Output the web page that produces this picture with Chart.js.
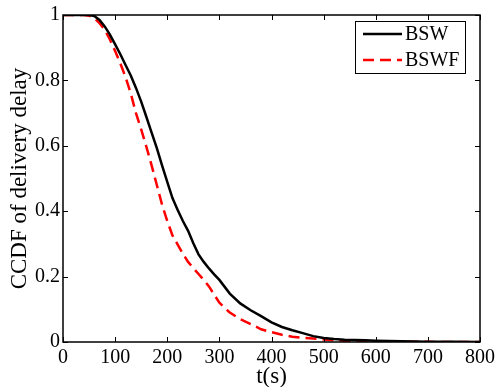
<!DOCTYPE html>
<html>
<head>
<meta charset="utf-8">
<script src="https://cdn.jsdelivr.net/npm/chart.js@4.4.0/dist/chart.umd.min.js"></script>
<style>
    html, body { margin: 0; padding: 0; background: #fff; }
    #wrap { width: 499px; height: 387px; }
</style>
</head>
<body>
<div id="wrap"><canvas id="ccdfChart" width="499" height="387"></canvas></div>
<script>
// delay time (s)
const timeValues = [0, 20, 40, 50, 60, 70, 80, 90, 100, 110, 120, 130, 140, 150, 160, 170, 180, 190, 200, 210, 220, 230,
    240, 250, 260, 270, 280, 290, 300, 320, 340, 360, 380, 400, 420, 440, 460, 480, 500, 520, 540, 560, 580, 600,
    650, 700, 750, 800];
// CCDF, BSW (solid black)
const bswValues = [1, 1, 1, 1, 0.997, 0.985, 0.965, 0.94, 0.91, 0.88, 0.847, 0.815, 0.777, 0.735, 0.688, 0.64, 0.593,
    0.54, 0.49, 0.44, 0.404, 0.37, 0.34, 0.302, 0.268, 0.245, 0.225, 0.207, 0.19, 0.148, 0.118, 0.097, 0.079, 0.06,
    0.046, 0.036, 0.027, 0.018, 0.012, 0.009, 0.007, 0.006, 0.005, 0.004, 0.002, 0.001, 0.0005, 0];
// CCDF, BSWF (dashed red)
const bswfValues = [1, 1, 1, 0.998, 0.99, 0.975, 0.955, 0.925, 0.89, 0.852, 0.81, 0.76, 0.70, 0.65, 0.597, 0.54,
    0.48, 0.42, 0.37, 0.326, 0.298, 0.27, 0.245, 0.226, 0.208, 0.19, 0.17, 0.145, 0.12, 0.09, 0.07, 0.055, 0.039,
    0.03, 0.022, 0.016, 0.013, 0.011, 0.008, 0.005, 0.004, 0.003, 0.002, 0.002, 0.001, 0.0005, 0, 0];
const xTicks = [0, 100, 200, 300, 400, 500, 600, 700, 800];
const yTicks = [0, 0.2, 0.4, 0.6, 0.8, 1];

const serif = "'Liberation Serif', 'DejaVu Serif', serif";

function toPoints(ys) {
    return timeValues.map((t, i) => ({ x: t, y: ys[i] }));
}

// MATLAB 風の枠と内向きの目盛り
const boxPlugin = {
    id: 'boxPlugin',
    afterDatasetsDraw(chart) {
        const { ctx, chartArea: a, scales } = chart;
        ctx.save();
        ctx.strokeStyle = '#000';
        ctx.lineWidth = 1;
        ctx.beginPath();
        xTicks.forEach(v => {
            const px = Math.round(scales.x.getPixelForValue(v)) + 0.5;
            ctx.moveTo(px, a.bottom); ctx.lineTo(px, a.bottom - 5);
            ctx.moveTo(px, a.top); ctx.lineTo(px, a.top + 5);
        });
        yTicks.forEach(v => {
            const py = Math.round(scales.y.getPixelForValue(v)) + 0.5;
            ctx.moveTo(a.left, py); ctx.lineTo(a.left + 5, py);
            ctx.moveTo(a.right, py); ctx.lineTo(a.right - 5, py);
        });
        ctx.stroke();
        ctx.lineWidth = 1.5;
        ctx.strokeRect(a.left, a.top, a.right - a.left, a.bottom - a.top);

        // 凡例
        const lx = a.right - 125, ly = a.top + 6, lw = 110, lh = 52;
        ctx.fillStyle = '#fff';
        ctx.fillRect(lx, ly, lw, lh);
        ctx.lineWidth = 1;
        ctx.strokeRect(lx + 0.5, ly + 0.5, lw, lh);
        chart.data.datasets.forEach((ds, i) => {
            const yy = ly + 13 + i * 26;
            ctx.strokeStyle = ds.borderColor;
            ctx.lineWidth = 2.5;
            ctx.setLineDash(ds.borderDash || []);
            ctx.beginPath();
            ctx.moveTo(lx + 8, yy); ctx.lineTo(lx + 47, yy);
            ctx.stroke();
            ctx.setLineDash([]);
            ctx.fillStyle = '#000';
            ctx.font = '20px ' + serif;
            ctx.textBaseline = 'middle';
            ctx.fillText(ds.label, lx + 50, yy + 1);
        });
        ctx.restore();
    }
};

new Chart(document.getElementById('ccdfChart'), {
    type: 'line',
    data: {
        datasets: [{
            label: 'BSW',
            data: toPoints(bswValues),
            borderColor: '#000000',
            borderWidth: 2.5,
            pointRadius: 0,
            tension: 0
        }, {
            label: 'BSWF',
            data: toPoints(bswfValues),
            borderColor: '#ff0000',
            borderWidth: 2.5,
            borderDash: [11, 6],
            pointRadius: 0,
            tension: 0
        }]
    },
    options: {
        responsive: false,
        animation: false,
        layout: { padding: { top: 15, right: 17, left: 0, bottom: 0 } },
        plugins: { legend: { display: false }, tooltip: { enabled: false } },
        scales: {
            x: {
                type: 'linear',
                min: 0, max: 800,
                afterBuildTicks: s => { s.ticks = xTicks.map(v => ({ value: v })); },
                afterFit: s => { s.height = 45; },
                grid: { display: false, drawTicks: false },
                border: { display: false },
                ticks: { color: '#000', font: { family: serif, size: 20 }, padding: 4, maxRotation: 0,
                    callback: v => String(v) },
                title: { display: true, text: 't(s)', color: '#000', font: { family: serif, size: 23 },
                    padding: { top: 0, bottom: -4 } }
            },
            y: {
                type: 'linear',
                min: 0, max: 1,
                afterBuildTicks: s => { s.ticks = yTicks.map(v => ({ value: v })); },
                afterFit: s => { s.width = 63; },
                grid: { display: false, drawTicks: false },
                border: { display: false },
                ticks: { color: '#000', font: { family: serif, size: 20 }, padding: 3,
                    callback: v => String(v) },
                title: { display: true, text: 'CCDF of delivery delay', color: '#000', font: { family: serif, size: 23 },
                    padding: { top: 6, bottom: 0 } }
            }
        }
    },
    plugins: [boxPlugin]
});
</script>
</body>
</html>
